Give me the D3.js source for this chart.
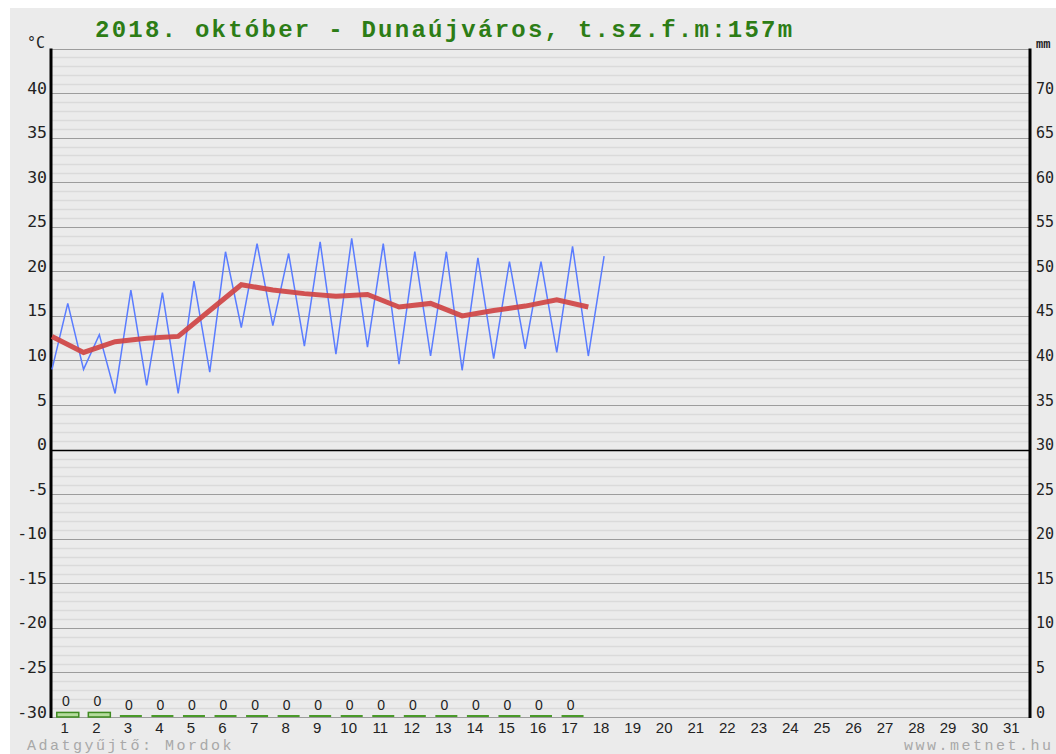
<!DOCTYPE html>
<html>
<head>
<meta charset="utf-8">
<script src="https://cdn.jsdelivr.net/npm/d3@7"></script>
<style>
  body { margin: 0; background: #fff; }
  svg { display: block; }
</style>
</head>
<body>
<script>
// ---- data ----
var days = d3.range(1, 32);
var tMin  = [9.0, 9.0, 6.3, 7.2, 6.3, 8.7, 13.7, 13.9, 11.6, 10.7, 11.5, 9.6, 10.5, 8.9, 10.2, 11.3, 10.9, 10.5];
var tMax  = [16.4, 12.9, 17.9, 17.6, 18.9, 22.2, 23.1, 22.0, 23.3, 23.7, 23.1, 22.2, 22.2, 21.5, 21.1, 21.1, 22.8, 21.7];
var tMean = [12.7, 10.9, 12.1, 12.5, 12.7, 15.6, 18.5, 17.9, 17.5, 17.2, 17.4, 16.0, 16.4, 15.0, 15.6, 16.1, 16.8, 16.0];
var precip = [0.4, 0.4, 0, 0, 0, 0, 0, 0, 0, 0, 0, 0, 0, 0, 0, 0, 0];
var precipLabels = ["0","0","0","0","0","0","0","0","0","0","0","0","0","0","0","0","0"];
var tempTicks = [40, 35, 30, 25, 20, 15, 10, 5, 0, -5, -10, -15, -20, -25, -30];
var mmTicks = [70, 65, 60, 55, 50, 45, 40, 35, 30, 25, 20, 15, 10, 5, 0];
var title = "2018. október - Dunaújváros, t.sz.f.m:157m";

var W = 1056, H = 754;
var pLeft = 52, pRight = 1030, pTop = 48.5, pBottom = 717;

var svg = d3.select("body").append("svg")
  .attr("width", W).attr("height", H);

svg.append("rect").attr("x", 10).attr("y", 8)
  .attr("width", W - 10).attr("height", H - 8)
  .attr("fill", "#ebebeb");

var x = d3.scaleLinear().domain([0, 31]).range([pLeft, pRight]);
var y = d3.scaleLinear().domain([-30, 45]).range([pBottom, pTop]);
var yP = d3.scaleLinear().domain([0, 75]).range([pBottom, pTop]);

// grid
var minor = d3.range(-29, 45).filter(function(v) { return v % 5 != 0; });
svg.selectAll(".minor").data(minor).enter().append("line")
  .attr("x1", pLeft).attr("x2", pRight)
  .attr("y1", function(d) { return Math.round(y(d)) + 0.5; })
  .attr("y2", function(d) { return Math.round(y(d)) + 0.5; })
  .attr("stroke", "#dadada").attr("stroke-width", 1.3);

var major = d3.range(-30, 46, 5);
svg.selectAll(".major").data(major).enter().append("line")
  .attr("x1", pLeft).attr("x2", pRight)
  .attr("y1", function(d) { return Math.round(y(d)) + 0.5; })
  .attr("y2", function(d) { return Math.round(y(d)) + 0.5; })
  .attr("stroke", function(d) { return d == 0 ? "#000" : "#9c9c9c"; })
  .attr("stroke-width", function(d) { return d == 0 ? 1.5 : 1.2; });

// axes lines
svg.append("line").attr("x1", 51).attr("x2", 51)
  .attr("y1", pTop).attr("y2", pBottom + 1)
  .attr("stroke", "#000").attr("stroke-width", 3);
svg.append("line").attr("x1", pRight).attr("x2", pRight)
  .attr("y1", pTop).attr("y2", pBottom + 1)
  .attr("stroke", "#000").attr("stroke-width", 3);

// tick labels
svg.selectAll(".tl").data(tempTicks).enter().append("text")
  .attr("x", 47).attr("y", function(d) { return y(d) + 0.5; })
  .attr("text-anchor", "end")
  .attr("font-family", "DejaVu Sans Mono, monospace")
  .attr("font-size", 16.5).attr("fill", "#222")
  .text(function(d) { return d; });

svg.selectAll(".tr").data(mmTicks).enter().append("text")
  .attr("x", 1036).attr("y", function(d) { return yP(d) + 0.5; })
  .attr("font-family", "DejaVu Sans Mono, monospace")
  .attr("font-size", 15).attr("fill", "#222")
  .text(function(d) { return d; });

svg.append("text").attr("x", 27).attr("y", 48)
  .attr("font-family", "DejaVu Sans Mono, monospace")
  .attr("font-size", 15).attr("fill", "#222").text("°C");
svg.append("text").attr("x", 1036).attr("y", 48)
  .attr("font-family", "Liberation Mono, monospace").attr("font-weight", "bold")
  .attr("font-size", 12).attr("fill", "#222").text("mm");

// day labels
svg.selectAll(".day").data(days).enter().append("text")
  .attr("x", function(d) { return x(d - 0.5) - 3; }).attr("y", 733)
  .attr("text-anchor", "middle")
  .attr("font-family", "Liberation Sans, Arial, sans-serif")
  .attr("font-size", 15).attr("fill", "#222")
  .text(function(d) { return d; });

// precipitation bars
svg.selectAll(".bar").data(precip).enter().append("rect")
  .attr("x", function(d, i) { return x(i + 0.5) - 11; })
  .attr("width", 22)
  .attr("y", function(d) { return d > 0 ? yP(d) - 1 : pBottom - 2; })
  .attr("height", function(d) { return d > 0 ? pBottom - yP(d) + 1 : 2; })
  .attr("fill", function(d) { return d > 0 ? "#b4dc9c" : "#4a9a2a"; })
  .attr("stroke", function(d) { return d > 0 ? "#3e8a20" : "none"; })
  .attr("stroke-width", 1.5);

svg.selectAll(".pl").data(precipLabels).enter().append("text")
  .attr("x", function(d, i) { return x(i + 0.5) - 2; })
  .attr("y", function(d, i) { return (precip[i] > 0 ? yP(precip[i]) : pBottom) - 7; })
  .attr("text-anchor", "middle")
  .attr("font-family", "Liberation Sans, Arial, sans-serif")
  .attr("font-size", 14).attr("fill", "#222")
  .text(function(d) { return d; });

// temperature min/max
var mm = [];
tMin.forEach(function(v, i) {
  mm.push([i, v]);
  mm.push([i + 0.5, tMax[i]]);
});
svg.append("path").datum(mm)
  .attr("d", d3.line().x(function(d) { return x(d[0]); }).y(function(d) { return y(d[1]); }))
  .attr("fill", "none").attr("stroke", "#5a7cff").attr("stroke-width", 1.5);

// daily mean
svg.append("path").datum(tMean)
  .attr("d", d3.line().x(function(d, i) { return x(i); }).y(function(d) { return y(d); }))
  .attr("fill", "none").attr("stroke", "#cf4444").attr("stroke-opacity", 0.92)
  .attr("stroke-width", 5);

// title and footer
svg.append("text").attr("x", 95).attr("y", 37)
  .attr("font-family", "Liberation Mono, Courier New, monospace")
  .attr("font-weight", "bold").attr("font-size", 24)
  .attr("letter-spacing", 2.25).attr("fill", "#2d7d16")
  .text(title);

svg.append("text").attr("x", 27).attr("y", 750)
  .attr("font-family", "Liberation Mono, Courier New, monospace")
  .attr("font-size", 15).attr("letter-spacing", 2.5).attr("fill", "#a8a8a8")
  .text("Adatgyűjtő: Mordok");
svg.append("text").attr("x", 904).attr("y", 750)
  .attr("font-family", "Liberation Mono, Courier New, monospace")
  .attr("font-size", 15).attr("letter-spacing", 2.5).attr("fill", "#a8a8a8")
  .text("www.metnet.hu");
</script>
</body>
</html>
